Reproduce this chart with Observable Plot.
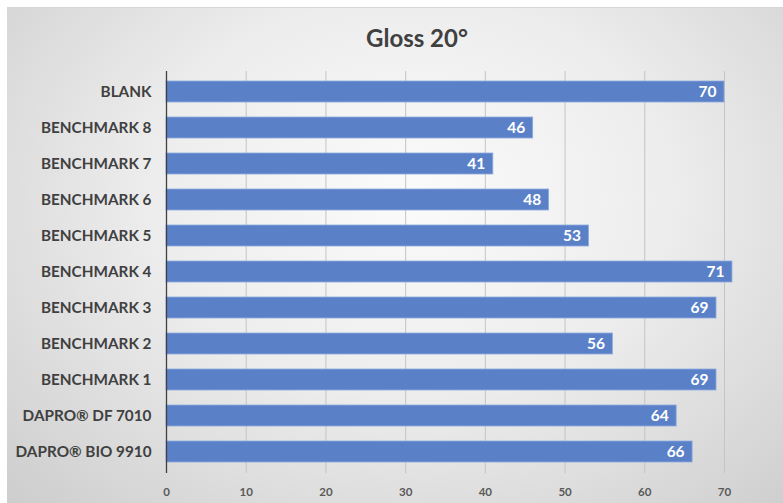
<!DOCTYPE html>
<html>
<head>
<meta charset="utf-8">
<script src="https://cdn.jsdelivr.net/npm/d3@7"></script>
<script src="https://cdn.jsdelivr.net/npm/@observablehq/plot@0.6"></script>
<style>
  html, body { margin: 0; padding: 0; background: #ffffff; }
  #panel {
    position: absolute; left: 7px; top: 7px; width: 776px; height: 496px;
    background: radial-gradient(ellipse farthest-corner at 52% 38%, #fbfbfb 0%, #ededed 45%, #cdcdcd 100%);
    border-top: 1px solid #d6d6d6; box-sizing: border-box;
    font-family: Lato, "Noto Sans", sans-serif;
  }
  #title {
    height: 51px; line-height: 60px; text-align: center;
    font-size: 24px; font-weight: 700; color: #404040;
    padding-left: 44px;
  }
  svg { display: block; background: transparent; overflow: visible; }
</style>
</head>
<body>
<div id="panel">
  <div id="title">Gloss 20°</div>
  <div id="chart"></div>
</div>
<script>
const categories = ["BLANK","BENCHMARK 8","BENCHMARK 7","BENCHMARK 6","BENCHMARK 5","BENCHMARK 4","BENCHMARK 3","BENCHMARK 2","BENCHMARK 1","DAPRO® DF 7010","DAPRO® BIO 9910"];
const values = [70, 46, 41, 48, 53, 71, 69, 56, 69, 64, 66];
const xTicks = [0, 10, 20, 30, 40, 50, 60, 70];

const data = categories.map((c, i) => ({category: c, value: values[i]}));

const chart = Plot.plot({
  width: 776,
  height: 444,
  marginLeft: 159,
  marginRight: 59,
  marginTop: 12,
  marginBottom: 30,
  style: {background: "transparent", fontFamily: "Lato, 'Noto Sans', sans-serif"},
  x: {domain: [0, 70], ticks: xTicks, label: null},
  y: {domain: categories, paddingInner: 0.41, paddingOuter: 0.205, label: null},
  marks: [
    Plot.ruleX(xTicks.filter(d => d > 0), {stroke: "#c4c4c4", strokeWidth: 1}),
    Plot.barX(data, {x: "value", y: "category", fill: "#5a81c8", stroke: "#8eabde", strokeWidth: 0.8}),
    Plot.ruleX([0], {stroke: "#404040", strokeWidth: 1.3}),
    Plot.text(data, {x: "value", y: "category", text: d => String(d.value), textAnchor: "end", dx: -8,
      fill: "white", fontWeight: 700, fontSize: 15.5}),
    Plot.axisX({ticks: xTicks, tickSize: 0, tickPadding: 14, fontSize: 11.5, fontWeight: 700, color: "#595959", label: null}),
    Plot.axisY({tickSize: 0, tickPadding: 15, fontSize: 15.3, fontWeight: 700, color: "#404040", label: null})
  ]
});
document.getElementById("chart").appendChild(chart);
</script>
</body>
</html>
